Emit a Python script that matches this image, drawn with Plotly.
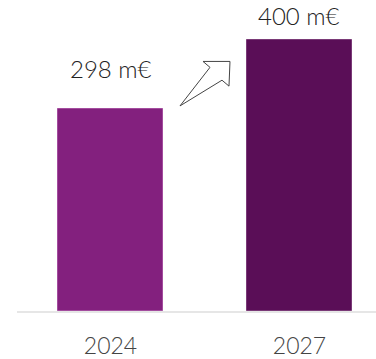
import plotly.graph_objects as go

# Data
years = ["2024", "2027"]
values = [298, 400]
labels = ["298 m€", "400 m€"]

# Style
bar_colors = ["#83207e", "#5a0e57"]
edge_colors = ["#a34c9e", "#7a3a77"]
label_shift = [27, 11]  # px gap between bar top and label bottom

W, H = 376, 359
ML, MR, MT, MB = 17, 0, 13, 44.5
PW, PH = W - ML - MR, H - MT - MB

def px(x, y):
    return (x - ML) / PW, 1 - (y - MT) / PH

fig = go.Figure()
fig.add_trace(go.Bar(
    x=[0, 1], y=values, width=0.556,
    marker=dict(color=bar_colors, line=dict(color=edge_colors, width=1)),
    hoverinfo="skip",
))

for i, (v, t) in enumerate(zip(values, labels)):
    fig.add_annotation(x=i, y=v, text=t, showarrow=False, yanchor="bottom",
                       yshift=label_shift[i] - 3,
                       font=dict(family="Lato", size=24, color="#222222", weight=300))

# decorative outlined arrow
pts = [(180, 107), (210, 68), (203, 62), (230, 62), (229, 87), (222, 81)]
path = "M " + " L ".join(f"{px(a, b)[0]:.4f},{px(a, b)[1]:.4f}" for a, b in pts) + " Z"
fig.add_shape(type="path", xref="paper", yref="paper", path=path,
              fillcolor="white", line=dict(color="#444444", width=1))

fig.update_layout(
    width=W, height=H,
    margin=dict(l=ML, r=MR, t=MT, b=MB),
    paper_bgcolor="white", plot_bgcolor="white",
    showlegend=False,
    bargap=0,
    xaxis=dict(range=[-0.495, 1.405], tickmode="array", tickvals=[0, 1], ticktext=years,
               showgrid=False, zeroline=False, showline=True, linecolor="#e6e6e6", linewidth=2,
               ticks="", ticklabelstandoff=13,
               tickfont=dict(family="Lato", size=23, color="#444444", weight=300)),
    yaxis=dict(range=[0, 440], visible=False, showgrid=False, zeroline=False),
)

fig.write_html("out.html")
